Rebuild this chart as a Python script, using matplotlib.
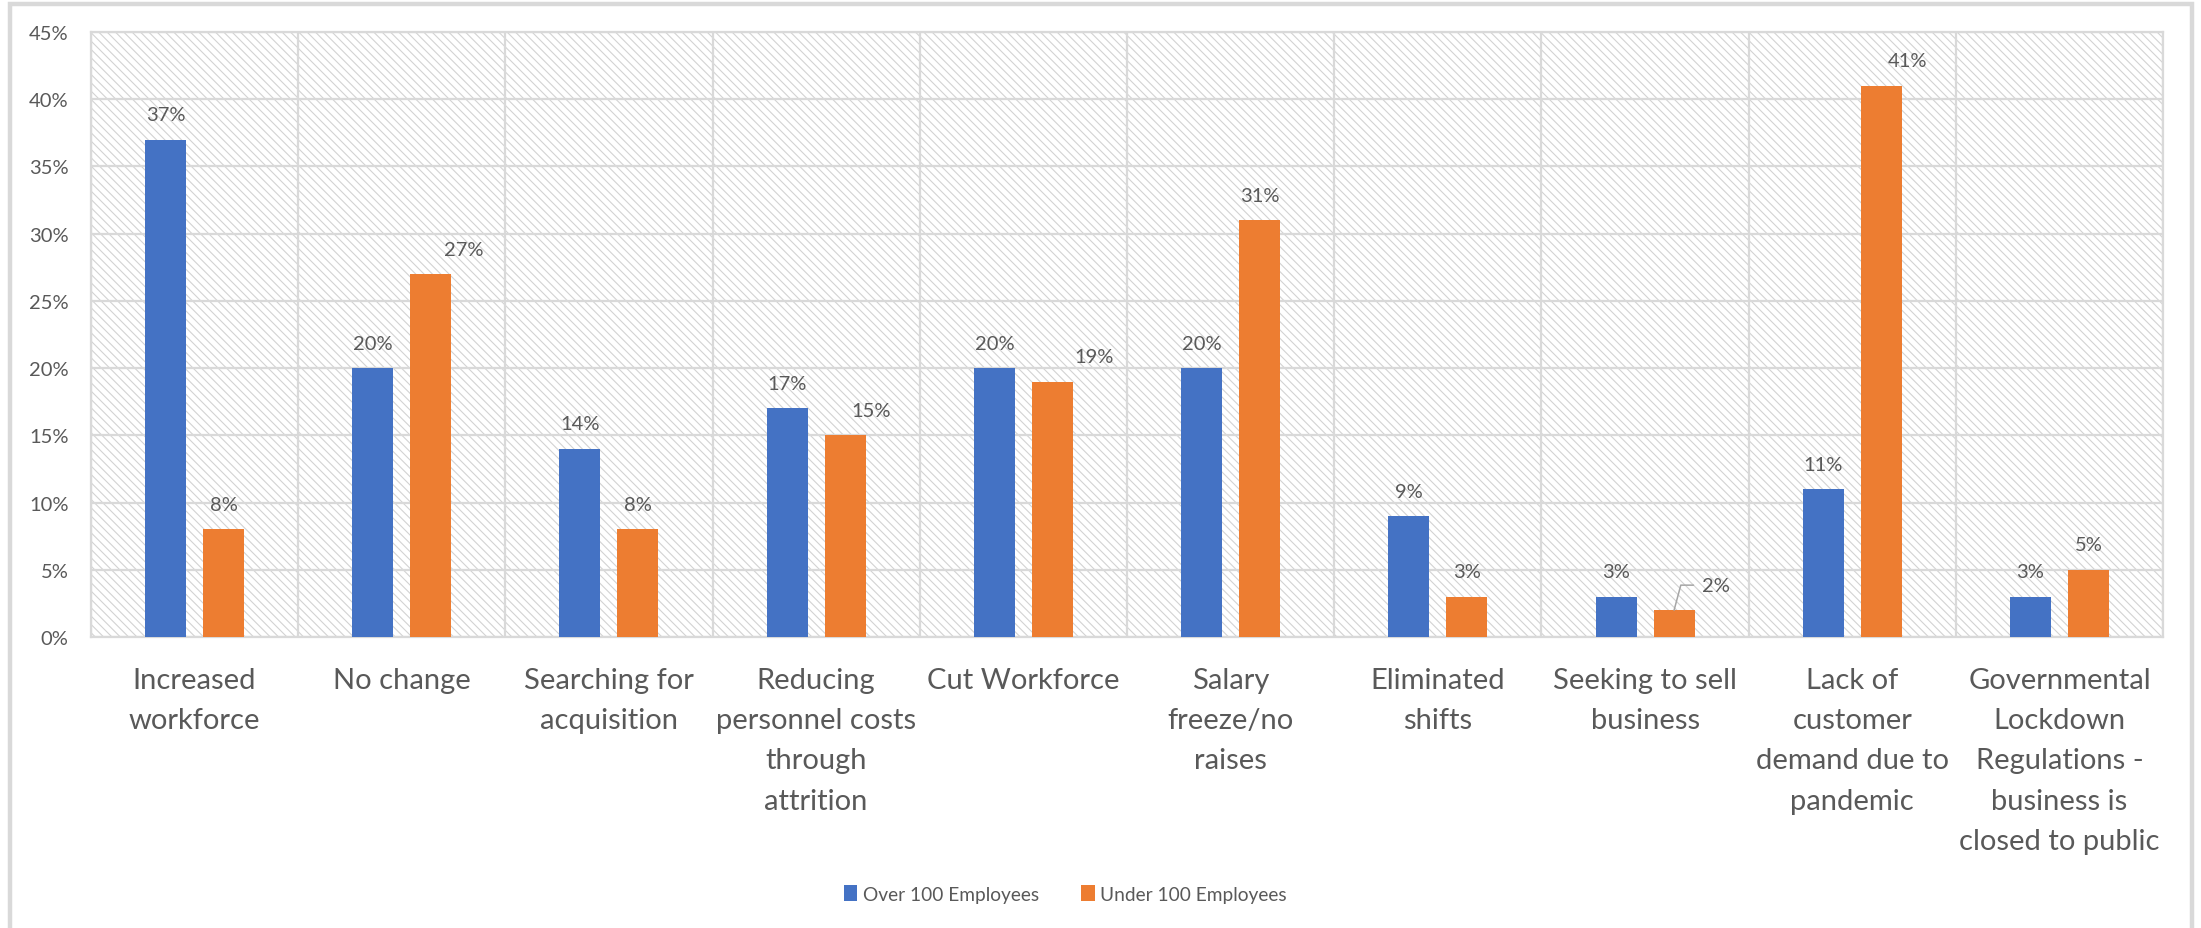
import matplotlib
matplotlib.use("Agg")
import matplotlib.pyplot as plt
from matplotlib.patches import Rectangle
import numpy as np

CATEGORIES = [
    "Increased\nworkforce",
    "No change",
    "Searching for\nacquisition",
    "Reducing\npersonnel costs\nthrough\nattrition",
    "Cut Workforce",
    "Salary\nfreeze/no\nraises",
    "Eliminated\nshifts",
    "Seeking to sell\nbusiness",
    "Lack of\ncustomer\ndemand due to\npandemic",
    "Governmental\nLockdown\nRegulations -\nbusiness is\nclosed to public",
]
OVER_100 = [37, 20, 14, 17, 20, 20, 9, 3, 11, 3]
UNDER_100 = [8, 27, 8, 15, 19, 31, 3, 2, 41, 5]
SERIES_NAMES = ["Over 100 Employees", "Under 100 Employees"]

BLUE = "#4472C4"
ORANGE = "#ED7D31"
TEXT = "#595959"
LINE = "#D9D9D9"

# labels on the orange series that were nudged sideways (points)
ORANGE_LABEL_SHIFT = {1: 24, 3: 19, 4: 30, 8: 19}
LEADER_INDEX = 7

plt.rcParams["font.family"] = ["Lato", "DejaVu Sans"]
plt.rcParams["hatch.linewidth"] = 0.8

fig = plt.figure(figsize=(22.01, 9.29), dpi=100)
ax = fig.add_axes([0.0413, 0.3132, 0.9415, 0.6513])

# diagonal hatched plot area
ax.patch.set_facecolor("white")
ax.patch.set_hatch("\\\\\\\\")
ax.patch.set_edgecolor("#D3D3D3")
ax.patch.set_linewidth(0)

x = np.arange(len(CATEGORIES))
width = 0.198
offset = 0.14
bars_over = ax.bar(x - offset, OVER_100, width, color=BLUE, label=SERIES_NAMES[0], zorder=3)
bars_under = ax.bar(x + offset, UNDER_100, width, color=ORANGE, label=SERIES_NAMES[1], zorder=3)

ax.set_xlim(-0.5, len(CATEGORIES) - 0.5)
ax.set_ylim(0, 45)
ax.set_yticks(np.arange(0, 46, 5))
ax.set_yticklabels([f"{v}%" for v in range(0, 46, 5)])
ax.set_xticks(x)
ax.set_xticklabels(CATEGORIES, linespacing=1.68)
ax.set_xticks(np.arange(-0.5, len(CATEGORIES), 1), minor=True)

ax.tick_params(axis="y", length=0, pad=16, labelsize=14.5, labelcolor=TEXT)
ax.tick_params(axis="x", which="major", length=0, pad=21.5, labelsize=21, labelcolor=TEXT)
ax.tick_params(axis="x", which="minor", length=0)

ax.set_axisbelow(True)
ax.grid(axis="y", color=LINE, linewidth=1.6)
ax.grid(axis="x", which="minor", color=LINE, linewidth=1.6)
ax.grid(axis="x", which="major", visible=False)
for spine in ax.spines.values():
    spine.set_color(LINE)
    spine.set_linewidth(1.6)

label_kw = dict(textcoords="offset points", ha="center", va="center",
                fontsize=14.5, color=TEXT)
for xi, v in zip(x, OVER_100):
    ax.annotate(f"{v}%", xy=(xi - offset, v), xytext=(0, 18), **label_kw)
for i, (xi, v) in enumerate(zip(x, UNDER_100)):
    if i == LEADER_INDEX:
        ax.annotate(f"{v}%", xy=(xi + offset, v), xytext=(30, 18),
                    arrowprops=dict(arrowstyle="-", color="#A6A6A6", lw=1.1,
                                    relpos=(0, 0.5), shrinkA=4, shrinkB=0,
                                    connectionstyle="angle,angleA=0,angleB=75,rad=0"),
                    **label_kw)
    else:
        ax.annotate(f"{v}%", xy=(xi + offset, v),
                    xytext=(ORANGE_LABEL_SHIFT.get(i, 0), 18), **label_kw)

leg = fig.legend(handles=[bars_over, bars_under], loc="center",
                 bbox_to_anchor=(0.484, 0.0366), ncol=2, frameon=False,
                 fontsize=13.8, handlelength=0.7, handleheight=0.9,
                 handletextpad=0.3, columnspacing=2.2)
for t in leg.get_texts():
    t.set_color(TEXT)

# light chart border
fig.add_artist(Rectangle((9.5 / 2201, -0.1), 2182 / 2201, 1.1 - 5 / 929,
                         transform=fig.transFigure, fill=False,
                         edgecolor=LINE, linewidth=3.2))

fig.savefig("out.png", dpi=100)
